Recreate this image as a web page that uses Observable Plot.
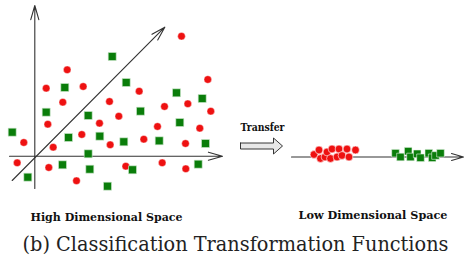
<!DOCTYPE html>
<html><head><meta charset="utf-8">
<script src="https://cdn.jsdelivr.net/npm/d3@7"></script>
<script src="https://cdn.jsdelivr.net/npm/@observablehq/plot@0.6"></script>
<style>body{margin:0;background:#fff}</style>
</head><body><div id="chart"></div>
<script>
// High dimensional space: class A (red circles), class B (green squares)
const redHigh = [[181,35.7],[66.7,69.3],[45.7,87.7],[82.7,86],[207.3,79],[138.7,90.7],[62.3,101.7],[109,101],[187.3,103.3],[164,106],[210.3,110.7],[118.3,115.7],[47.3,123.7],[99,122.7],[157,126],[199.3,127.7],[81.3,134],[23.3,142],[143.3,138.7],[109.7,144.3],[52.7,146.7],[185,143],[16.7,162.3],[48.3,167],[125.3,165.7],[161.7,162.3],[185.3,168.3],[76,180.3]];
const greenHigh = [[111.7,56],[64.3,87],[125.7,82],[176,92.3],[201.7,98],[45.7,111.7],[87.7,115],[140,110.7],[179.3,122],[11.7,131.7],[68,137],[99.3,135.7],[123.3,141.3],[158.7,140.3],[205,143],[87.7,153.3],[62,164.3],[89.3,168.7],[132,169.3],[197.7,163.7],[27.3,176.7],[107,185.7]];
// Low dimensional space clusters
const redLow = [[313.5,154],[318.5,149.5],[320,158],[324.5,156.5],[326.5,151.5],[331.5,148.5],[330,158],[336.5,156.5],[338.5,148.5],[341.5,155],[346.5,148.5],[348.5,156.5],[355,149.5]];
const greenLow = [[395,152.7],[400,156.5],[407.7,150.7],[410,156.5],[416.7,153.3],[420,157.3],[428.3,152.7],[431.7,157.3],[435,155],[440,152.7]];
// Coordinate axes (x1,y1,x2,y2)
const highAxes = [[34.3,188,34.3,5],[9,155.7,222,155.7],[11.7,180,164.3,26.7]];
const lowAxis = [[291,156.5,463,156.5]];
// Hollow "transfer" block arrow outline
const blockArrow = [[240,142.5],[273,142.5],[273,137.5],[282,145.5],[273,153.5],[273,148.5],[240,148.5],[240,142.5]];
// Labels (w = width of the label in the reference)
const labels = [
  {x:106, y:216.8, text:"High Dimensional Space", w:152},
  {x:372.5, y:215.2, text:"Low Dimensional Space", w:149},
  {x:262, y:126.7, text:"Transfer", w:44}
];
const caption = [{x:235, y:243.8, text:"(b) Classification Transformation Functions", w:426}];

const pts = a => a.map(([x,y]) => ({x,y}));
const segs = a => a.map(([x1,y1,x2,y2]) => ({x1,y1,x2,y2}));
const RED = "#ee1111", GREEN = "#0a7d0a", AX = "#333";
const SERIF = "'DejaVu Serif', 'Liberation Serif', serif";

const chart = Plot.plot({
  width: 465, height: 264, margin: 0,
  x: {domain:[0,465], range:[0,465], axis:null},
  y: {domain:[0,264], range:[0,264], axis:null},
  marks: [
    Plot.arrow(segs(highAxes), {x1:"x1",y1:"y1",x2:"x2",y2:"y2", stroke:AX, strokeWidth:1.1, headLength:20, headAngle:32}),
    Plot.arrow(segs(lowAxis), {x1:"x1",y1:"y1",x2:"x2",y2:"y2", stroke:AX, strokeWidth:1.1, headLength:17, headAngle:32}),
    Plot.dot(pts(redHigh), {x:"x", y:"y", r:3.8, fill:RED, stroke:"#fff", strokeWidth:0.4}),
    Plot.dot(pts(greenHigh), {x:"x", y:"y", r:4.5, symbol:"square", fill:GREEN, stroke:"#cfe8cf", strokeWidth:0.6}),
    Plot.dot(pts(redLow), {x:"x", y:"y", r:3.9, fill:RED, stroke:"#fff", strokeWidth:0.6}),
    Plot.dot(pts(greenLow), {x:"x", y:"y", r:4.3, symbol:"square", fill:GREEN, stroke:"#e6f3e6", strokeWidth:0.6}),
    Plot.line(pts(blockArrow), {x:"x", y:"y", fill:"#e8e8e8", stroke:"#222", strokeWidth:0.9, curve:"linear"}),
    Plot.text(labels, {x:"x", y:"y", text:"text", fontFamily:SERIF, fontWeight:"bold", fontSize:10.5, fill:"#111"}),
    Plot.text(caption, {x:"x", y:"y", text:"text", fontFamily:SERIF, fontSize:19.5, fill:"#222"})
  ]
});
document.getElementById("chart").appendChild(chart);
// fit each label to the width measured in the reference
const all = [...labels, ...caption];
const nodes = chart.querySelectorAll("g[aria-label='text'] text");
nodes.forEach((t, i) => {
  const d = all[i];
  if (d) { t.setAttribute("textLength", d.w); t.setAttribute("lengthAdjust", "spacingAndGlyphs"); }
});
</script>
</body></html>
